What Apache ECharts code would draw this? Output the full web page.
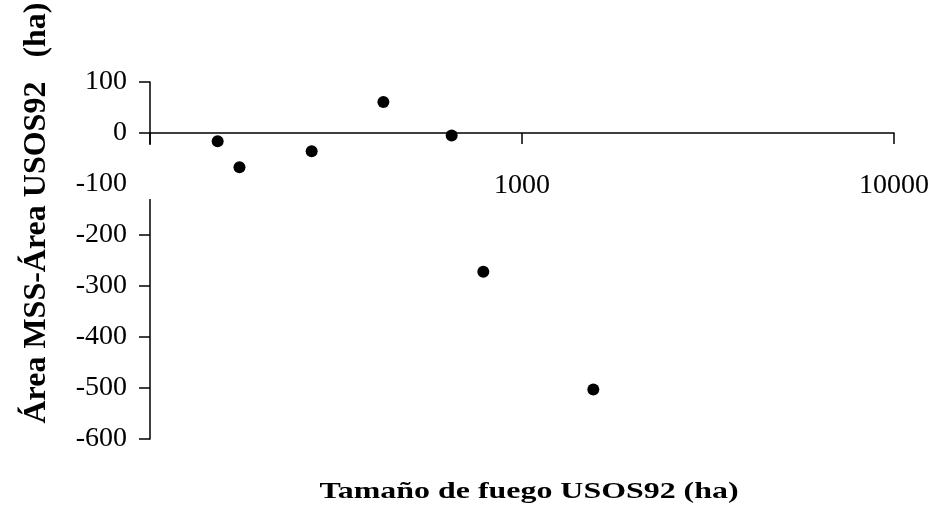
<!DOCTYPE html>
<html><head><meta charset="utf-8">
<script src="https://cdn.jsdelivr.net/npm/echarts@6/dist/echarts.min.js"></script>
<style>html,body{margin:0;padding:0;background:#fff}#c{width:936px;height:510px}</style>
</head><body><div id="c"></div>
<script>
// Data
const fireSize = [152, 174, 272, 424, 647, 787, 1555];      // Tamaño de fuego USOS92 (ha)
const areaDiff = [-16, -67, -36, 61, -5, -272, -503];        // Área MSS - Área USOS92 (ha)
const xTickLabels = [100, 1000, 10000];
const yTickLabels = [-600, -500, -400, -300, -200, -100, 0, 100];
const xTitle = 'Tamaño de fuego USOS92 (ha)';
const yTitle = 'Área MSS-Área USOS92   (ha)';

const FONT = "'Liberation Serif', 'Times New Roman', serif";
const chart = echarts.init(document.getElementById('c'), null, {renderer: 'canvas'});
const points = fireSize.map((x, i) => [x, areaDiff[i]]);

const gridTop = 82, gridBottom = 71, H = 510;
const gridH = H - gridTop - gridBottom;
const yMin = yTickLabels[0], yMax = yTickLabels[yTickLabels.length - 1];
// x axis crosses the y axis at 0 (labels move with it)
const xAxisOffset = -gridH * (0 - yMin) / (yMax - yMin);

chart.setOption({
  backgroundColor: '#fff',
  animation: false,
  grid: {left: 150, right: 42, top: gridTop, bottom: gridBottom, containLabel: false},
  xAxis: {
    type: 'log', logBase: 10,
    min: xTickLabels[0], max: xTickLabels[xTickLabels.length - 1],
    offset: xAxisOffset,
    z: 5,
    axisLine: {onZero: false, lineStyle: {color: '#000', width: 1.5}},
    axisTick: {show: true, inside: false, length: 11, lineStyle: {color: '#000', width: 1.5}},
    minorTick: {show: false},
    splitLine: {show: false},
    axisLabel: {
      margin: 39, color: '#000', fontFamily: FONT, fontSize: 28,
      formatter: v => (v === xTickLabels[0] ? '' : String(v))
    }
  },
  yAxis: {
    type: 'value',
    min: yMin, max: yMax, interval: 100,
    axisLine: {show: true, lineStyle: {color: '#000', width: 1.5}},
    axisTick: {show: true, inside: false, length: 11, lineStyle: {color: '#000', width: 1.5}},
    splitLine: {show: false},
    axisLabel: {margin: 23, color: '#000', fontFamily: FONT, fontSize: 28}
  },
  series: [{
    type: 'scatter',
    data: points,
    symbol: 'circle',
    symbolSize: 12,
    itemStyle: {color: '#000', opacity: 1},
    z: 10
  }]
});

// White label box of the hidden "100" x label (covers part of the y axis line), placed through the scale
const p = chart.convertToPixel({gridIndex: 0}, [xTickLabels[0], 0]);
chart.setOption({
  graphic: [
    {type: 'rect', z: 100, shape: {x: p[0] - 16, y: p[1] + 12, width: 34, height: 54}, style: {fill: '#fff'}},
    {type: 'text', z: 100, x: 529, y: 492, scaleX: 1.33,
     style: {text: xTitle, font: "bold 24px " + FONT, fill: '#000', align: 'center', verticalAlign: 'middle'}},
    {type: 'text', z: 100, x: 37, y: 213, rotation: Math.PI / 2,
     style: {text: yTitle, font: "bold 32px " + FONT, fill: '#000', align: 'center', verticalAlign: 'middle'}}
  ]
});
</script>
</body></html>
